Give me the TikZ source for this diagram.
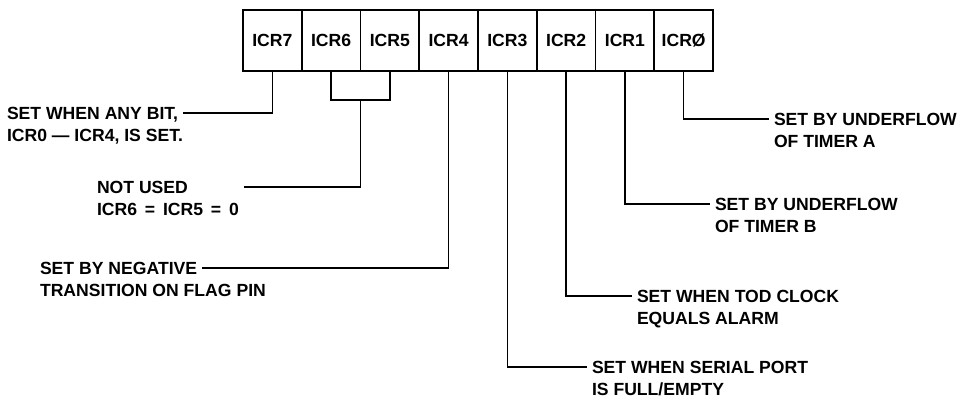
\documentclass[tikz,border=0pt]{standalone}
\usepackage{fontspec}
\setmainfont{Liberation Sans}
\usetikzlibrary{positioning}
\tikzstyle{every node}=[font=\fontsize{17.6}{21}\selectfont\bfseries]
\tikzstyle{cell}=[draw,rectangle,minimum width=58.75pt,minimum height=61pt,inner sep=0pt]
\tikzstyle{lbl}=[inner sep=0pt,outer xsep=5pt,text height=12.6pt,text depth=0pt]

\begin{document}
\begin{tikzpicture}[x=1pt,y=-1pt,line width=1.6pt]
    \useasboundingbox (0,0) rectangle (961,399);
    % register cells, bit 7 on the left
    \foreach \b/\t [count=\i from 0] in {7/7,6/6,5/5,4/4,3/3,2/2,1/1,0/Ø}
        \node[cell] (c\b) at (272.4+58.75*\i,40.5) {ICR\t};
    % left side labels
    \node[lbl, anchor=west] (anyA) at (2,113) {SET WHEN ANY BIT,};
    \node[lbl, below=8pt of anyA.south west, anchor=north west] (anyB) {ICR0 --- ICR4, IS SET.};
    \node[lbl, anchor=west] (notA) at (92,187) {NOT USED};
    \node[lbl, below=8pt of notA.south west, anchor=north west] (notB) {ICR6 \,=\, ICR5 \,=\, 0};
    \node[lbl, anchor=west] (negA) at (35,268) {SET BY NEGATIVE};
    \node[lbl, below=8pt of negA.south west, anchor=north west] (negB) {TRANSITION ON FLAG PIN};
    % right side labels
    \node[lbl, anchor=west] (tmaA) at (769,119) {SET BY UNDERFLOW};
    \node[lbl, below=8pt of tmaA.south west, anchor=north west] (tmaB) {OF TIMER A};
    \node[lbl, anchor=west] (tmbA) at (710,204) {SET BY UNDERFLOW};
    \node[lbl, below=8pt of tmbA.south west, anchor=north west] (tmbB) {OF TIMER B};
    \node[lbl, anchor=west] (todA) at (632,296) {SET WHEN TOD CLOCK};
    \node[lbl, below=8pt of todA.south west, anchor=north west] (todB) {EQUALS ALARM};
    \node[lbl, anchor=west] (serA) at (587,367) {SET WHEN SERIAL PORT};
    \node[lbl, below=8pt of serA.south west, anchor=north west] (serB) {IS FULL/EMPTY};
    % connectors
    \draw (c7.south) |- (anyA.east);
    \draw (c6.south) -- ++(0,28) -- coordinate (br) ++(58.75,0) -- (c5.south);
    \draw (br) |- (notA.east -| notB.east);
    \draw (c4.south) |- (negA.east);
    \draw (c3.south) |- (serA.west);
    \draw (c2.south) |- (todA.west);
    \draw (c1.south) |- (tmbA.west);
    \draw (c0.south) |- (tmaA.west);
\end{tikzpicture}
\end{document}
